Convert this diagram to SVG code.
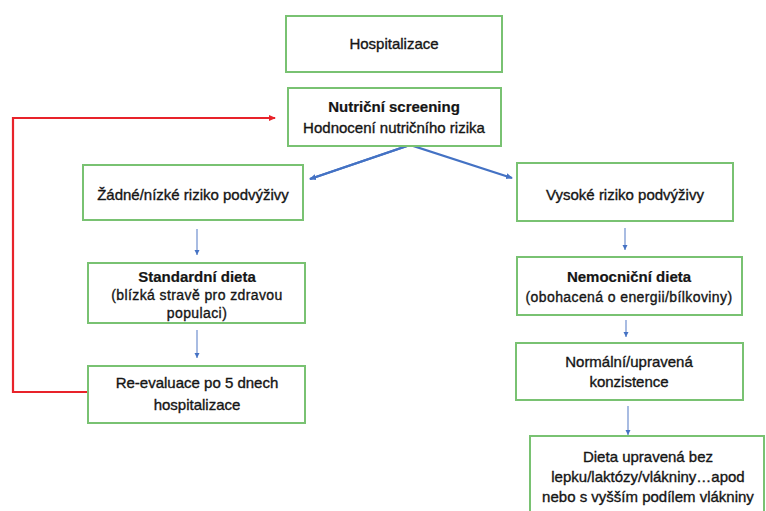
<svg xmlns="http://www.w3.org/2000/svg" width="766" height="511" viewBox="0 0 766 511">
<defs>
<marker id="ab" markerWidth="8" markerHeight="8" refX="6" refY="4" orient="auto" markerUnits="userSpaceOnUse"><path d="M0,1 L7,4 L0,7 z" fill="#4472C4"/></marker>
<marker id="abs" markerWidth="6" markerHeight="6" refX="5" refY="3" orient="auto" markerUnits="userSpaceOnUse"><path d="M0,0.5 L5,3 L0,5.5 z" fill="#4472C4"/></marker>
<marker id="ar" markerWidth="8" markerHeight="8" refX="6" refY="4" orient="auto" markerUnits="userSpaceOnUse"><path d="M0,1 L7,4 L0,7 z" fill="#E8232A"/></marker>
</defs>
<style>
.box{fill:#ffffff;stroke:#79C272;stroke-width:2}
text{font-family:"Liberation Sans",Arial,sans-serif;font-size:15px;fill:#151515;stroke:#151515;stroke-width:0.35;text-anchor:middle}
.b{font-weight:bold;stroke-width:0.2}
.s{font-size:14px;letter-spacing:0.4px}
.blue{stroke:#4472C4;stroke-width:2.2;fill:none}
.thin{stroke:#6F8FCF;stroke-width:1.2;fill:none}
.red{stroke:#E8232A;stroke-width:2.2;fill:none}
</style>
<rect width="766" height="511" fill="#ffffff"/>
<g id="connectors">
<polyline class="red" points="88,392 13,392 13,118 275,118" marker-end="url(#ar)"/>
<polyline class="blue" points="310,179 410,145 512,178" marker-end="url(#ab)"/>
<line class="blue" x1="410" y1="145" x2="310" y2="179" marker-end="url(#ab)"/>
<line class="thin" x1="197" y1="229" x2="197" y2="255" marker-end="url(#abs)"/>
<line class="thin" x1="197" y1="330" x2="197" y2="358" marker-end="url(#abs)"/>
<line class="thin" x1="625" y1="228" x2="625" y2="250" marker-end="url(#abs)"/>
<line class="thin" x1="626" y1="320" x2="626" y2="337" marker-end="url(#abs)"/>
<line class="thin" x1="628" y1="406" x2="628" y2="435" marker-end="url(#abs)"/>
</g>
<g id="n-hospitalizace"><rect class="box" x="286" y="16" width="216" height="56"/><text x="394" y="49">Hospitalizace</text></g>
<g id="n-screening"><rect class="box" x="288" y="88" width="213" height="58"/><text class="b" x="394" y="112">Nutriční screening</text><text x="394" y="133">Hodnocení nutričního rizika</text></g>
<g id="n-nizke"><rect class="box" x="83" y="165" width="220" height="55"/><text x="193" y="200">Žádné/nízké riziko podvýživy</text></g>
<g id="n-vysoke"><rect class="box" x="517" y="163" width="216" height="58"/><text x="625" y="200">Vysoké riziko podvýživy</text></g>
<g id="n-standard"><rect class="box" x="88" y="263" width="217" height="60"/><text class="b" x="197" y="282">Standardní dieta</text><text class="s" x="197" y="300">(blízká stravě pro zdravou</text><text class="s" x="197" y="318">populaci)</text></g>
<g id="n-nemocnicni"><rect class="box" x="517" y="257" width="225" height="58"/><text class="b" x="629" y="282">Nemocniční dieta</text><text class="s" x="629" y="302">(obohacená o energii/bílkoviny)</text></g>
<g id="n-reevaluace"><rect class="box" x="88" y="366" width="217" height="57"/><text x="197" y="388">Re-evaluace po 5 dnech</text><text x="197" y="410">hospitalizace</text></g>
<g id="n-konzistence"><rect class="box" x="516" y="343" width="227" height="57"/><text x="629" y="367">Normální/upravená</text><text x="629" y="387">konzistence</text></g>
<g id="n-dieta"><rect class="box" x="530" y="436" width="234" height="80"/><text x="648" y="462">Dieta upravená bez</text><text x="648" y="482">lepku/laktózy/vlákniny…apod</text><text x="648" y="502">nebo s vyšším podílem vlákniny</text></g>
</svg>
